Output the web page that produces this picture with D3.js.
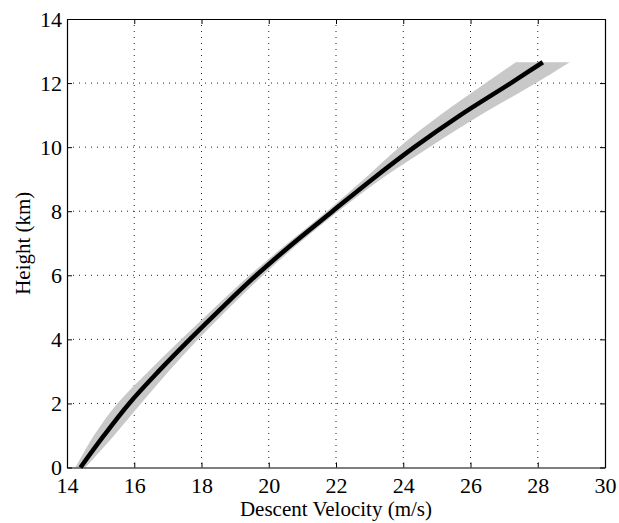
<!DOCTYPE html>
<html>
<head>
<meta charset="utf-8">
<script src="https://cdn.jsdelivr.net/npm/d3@7"></script>
<style>
  body { margin: 0; background: #fff; }
</style>
</head>
<body>
<script>
// height (km) and descent velocity (m/s)
var heights   = [0, 1, 2, 3, 4, 5, 6, 7, 8, 9, 10, 11, 12, 12.65];
var velocity  = [14.40, 15.10, 15.85, 16.72, 17.65, 18.62, 19.63, 20.73, 21.90, 23.08, 24.33, 25.70, 27.20, 28.15];
// grey spread around the mean profile
var bandLow   = [14.25, 14.80, 15.50, 16.42, 17.40, 18.40, 19.43, 20.56, 21.73, 22.83, 23.88, 25.10, 26.45, 27.35];
var bandHigh  = [14.55, 15.40, 16.20, 17.02, 17.90, 18.84, 19.83, 20.90, 22.07, 23.33, 24.78, 26.30, 27.95, 28.95];

var xTicks = [14, 16, 18, 20, 22, 24, 26, 28, 30];
var yTicks = [0, 2, 4, 6, 8, 10, 12, 14];

var W = 619, H = 523;
var plotLeft = 67, plotRight = 605, plotTop = 19, plotBottom = 467.5;
var serif = "'Liberation Serif', 'Times New Roman', Times, 'DejaVu Serif', serif";

var svg = d3.select("body").append("svg")
  .attr("width", W)
  .attr("height", H)
  .style("font-family", serif);

var x = d3.scaleLinear().domain([14, 30]).range([plotLeft, plotRight]);
var y = d3.scaleLinear().domain([0, 14]).range([plotBottom, plotTop]);

var rows = heights.map(function(h, i){
  return {h: h, v: velocity[i], lo: bandLow[i], hi: bandHigh[i]};
});

/*
Dotted grid, inner lines only
*/
svg.append("g").selectAll("line")
  .data(xTicks.slice(1, -1))
  .enter().append("line")
    .attr("x1", function(d){return x(d);})
    .attr("x2", function(d){return x(d);})
    .attr("y1", plotTop)
    .attr("y2", plotBottom)
    .style("stroke", "#222")
    .style("stroke-width", 1)
    .style("stroke-dasharray", "1,5");

svg.append("g").selectAll("line")
  .data(yTicks.slice(1, -1))
  .enter().append("line")
    .attr("x1", plotLeft)
    .attr("x2", plotRight)
    .attr("y1", function(d){return y(d);})
    .attr("y2", function(d){return y(d);})
    .style("stroke", "#222")
    .style("stroke-width", 1)
    .style("stroke-dasharray", "1,5");

// spread band
var band = d3.area()
  .y(function(d){return y(d.h);})
  .x0(function(d){return x(d.lo);})
  .x1(function(d){return x(d.hi);})
  .curve(d3.curveCatmullRom);

svg.append("path")
  .datum(rows)
  .attr("d", band)
  .style("fill", "#c8c8c8")
  .style("stroke", "none");

// mean profile
var line = d3.line()
  .x(function(d){return x(d.v);})
  .y(function(d){return y(d.h);})
  .curve(d3.curveCatmullRom);

svg.append("path")
  .datum(rows)
  .attr("d", line)
  .style("fill", "none")
  .style("stroke", "#000")
  .style("stroke-width", 4.5);

/*
Axes: inward ticks on all four sides, labels only bottom and left
*/
function styleAxis(g){
  g.attr("font-family", serif).attr("font-size", 22);
  g.selectAll("path").style("stroke", "#000").style("stroke-width", 1.2);
  g.selectAll("line").style("stroke", "#000").style("stroke-width", 1);
  g.selectAll("text")
    .style("font-family", serif)
    .style("font-size", "22px")
    .style("fill", "#000");
}

svg.append("g")
  .attr("transform", "translate(0," + plotBottom + ")")
  .call(d3.axisBottom(x).tickValues(xTicks).tickSizeInner(-5).tickSizeOuter(0).tickPadding(10))
  .call(styleAxis);

svg.append("g")
  .attr("transform", "translate(0," + plotTop + ")")
  .call(d3.axisTop(x).tickValues(xTicks).tickSizeInner(-5).tickSizeOuter(0).tickFormat(""))
  .call(styleAxis);

svg.append("g")
  .attr("transform", "translate(" + plotLeft + ",0)")
  .call(d3.axisLeft(y).tickValues(yTicks).tickSizeInner(-5).tickSizeOuter(0).tickPadding(5))
  .call(styleAxis);

svg.append("g")
  .attr("transform", "translate(" + plotRight + ",0)")
  .call(d3.axisRight(y).tickValues(yTicks).tickSizeInner(-5).tickSizeOuter(0).tickFormat(""))
  .call(styleAxis);

svg.selectAll(".domain").attr("fill", "none");

// axis titles
svg.append("text")
  .text("Descent Velocity (m/s)")
  .attr("x", (plotLeft + plotRight) / 2)
  .attr("y", 516)
  .attr("text-anchor", "middle")
  .style("font-family", serif)
  .style("font-size", "21px");

svg.append("text")
  .text("Height (km)")
  .attr("transform", "translate(30," + (plotTop + plotBottom) / 2 + ") rotate(-90)")
  .attr("text-anchor", "middle")
  .style("font-family", serif)
  .style("font-size", "21px");
</script>
</body>
</html>
